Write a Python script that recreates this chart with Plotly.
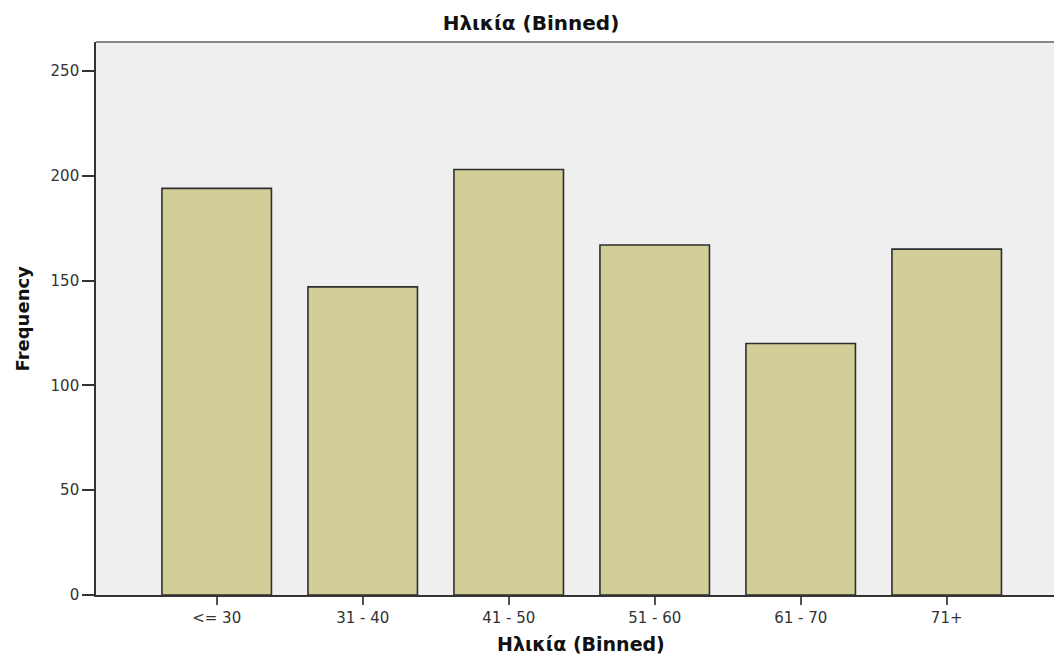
import plotly.graph_objects as go

categories = ["<= 30", "31 - 40", "41 - 50", "51 - 60", "61 - 70", "71+"]
frequency = [194, 147, 203, 167, 120, 165]
y_ticks = [0, 50, 100, 150, 200, 250]

title_text = "Ηλικία (Binned)"
x_title = "Ηλικία (Binned)"
y_title = "Frequency"

W, H = 1054, 656
ml, mr, mt, mb = 96, 0, 42, 61
plot_w = W - ml - mr
plot_h = H - mt - mb

fig = go.Figure()
fig.add_trace(go.Bar(
    x=list(range(len(categories))),
    y=frequency,
    width=0.75,
    marker=dict(color="#D3CE97", line=dict(color="#2E2E2E", width=1.6)),
    hoverinfo="skip",
))

fig.update_layout(
    width=W, height=H,
    margin=dict(l=ml, r=mr, t=mt, b=mb, pad=0),
    paper_bgcolor="white",
    plot_bgcolor="#EFEFEF",
    showlegend=False,
    title=dict(text=title_text, x=531 / W, xref="container",
               xanchor="center", y=1 - 23 / H, yanchor="middle",
               font=dict(family="DejaVu Sans", size=20, color="#111111", weight="bold")),
    font=dict(family="DejaVu Sans", color="#333333"),
)

fig.update_xaxes(
    range=[-0.8267, -0.8267 + plot_w / 146.0],
    tickmode="array",
    tickvals=list(range(len(categories))),
    ticktext=categories,
    ticks="outside", ticklen=8, tickwidth=1.5, tickcolor="#555555",
    tickfont=dict(family="DejaVu Sans", size=15, color="#333333"),
    showline=True, linecolor="#333333", linewidth=1.6,
    showgrid=False, zeroline=False,
)

fig.update_yaxes(
    range=[0, plot_h / 2.096],
    tickmode="array",
    tickvals=y_ticks,
    ticktext=[str(v) for v in y_ticks],
    ticks="outside", ticklen=12, tickwidth=1.5, tickcolor="#333333",
    tickfont=dict(family="DejaVu Sans", size=15, color="#333333"),
    showline=True, linecolor="#333333", linewidth=1.6,
    showgrid=False, zeroline=False,
)

# top border of the plot frame
fig.add_shape(type="line", xref="paper", yref="paper", x0=0, x1=1, y0=1, y1=1,
              line=dict(color="#888888", width=2.2))

fig.add_annotation(text=x_title, xref="paper", yref="paper",
                   x=(581 - ml) / plot_w, y=(595 - 644) / plot_h,
                   xanchor="center", yanchor="middle", showarrow=False,
                   font=dict(family="DejaVu Sans", size=19, color="#111111", weight="bold"))

fig.add_annotation(text=y_title, xref="paper", yref="paper",
                   x=(22 - ml) / plot_w, y=0.5, textangle=-90,
                   xanchor="center", yanchor="middle", showarrow=False,
                   font=dict(family="DejaVu Sans", size=18, color="#111111", weight="bold"))

fig.write_html(
    "out.html",
    config={"displayModeBar": False},
    post_script="document.body.style.margin='0';document.body.style.overflow='hidden';",
)
